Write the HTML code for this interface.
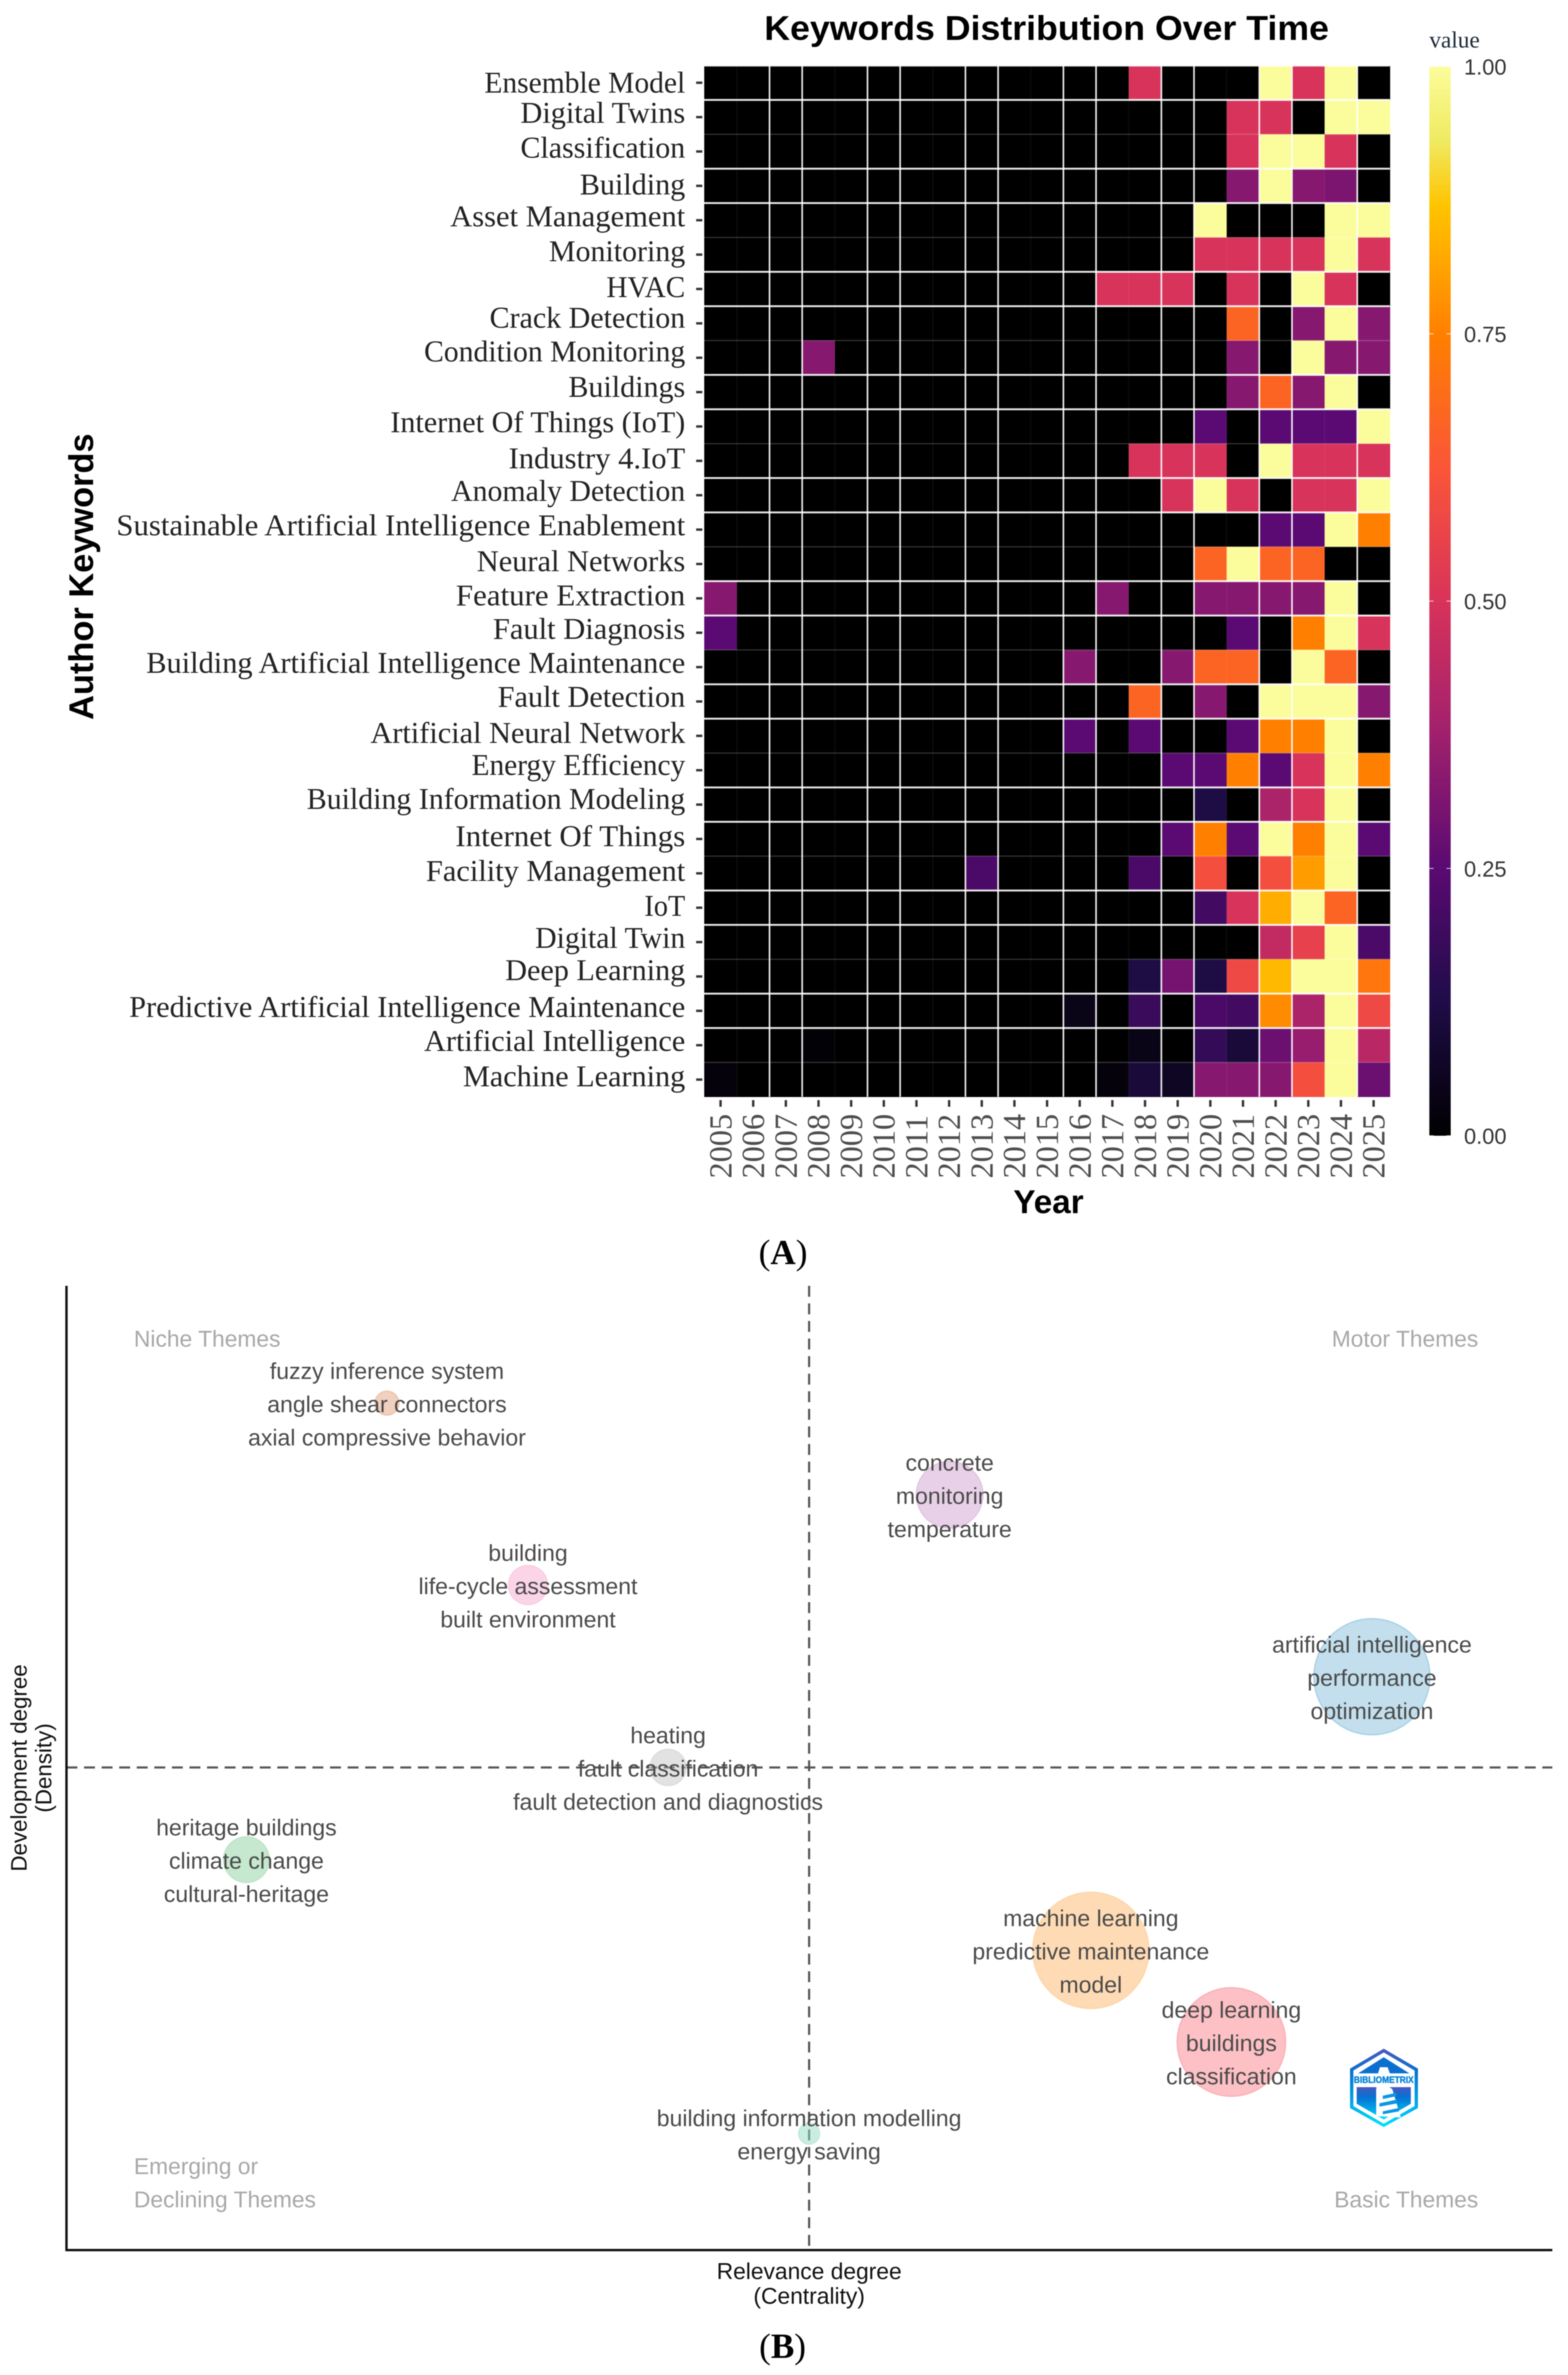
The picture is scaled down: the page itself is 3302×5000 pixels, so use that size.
<!DOCTYPE html>
<html lang="en">
<head>
<meta charset="utf-8">
<title>Keywords Distribution Over Time and Thematic Map</title>
<style>
html,body{margin:0;padding:0;background:#fff;}
svg{display:block;filter:blur(1px);}
.sans{font-family:"Liberation Sans",sans-serif;}
.serif{font-family:"Liberation Serif",serif;}
</style>
</head>
<body>
<svg id="figure" xmlns="http://www.w3.org/2000/svg" width="3302" height="5000" viewBox="0 0 3302 5000">
  <rect width="3302" height="5000" fill="#ffffff"/>
  <defs>
    <linearGradient id="logoGrad" x1="0" y1="0" x2="0" y2="1">
      <stop offset="0" stop-color="#4a58c0"/>
      <stop offset="0.3" stop-color="#0672d2"/>
      <stop offset="0.7" stop-color="#00a8ea"/>
      <stop offset="1" stop-color="#00e2ff"/>
    </linearGradient>
    <linearGradient id="colorbarGrad" x1="0" y1="1" x2="0" y2="0"></linearGradient>
  </defs>

  <g id="heatmap">
    <text class="sans" x="2204" y="84" font-size="72" font-weight="700" text-anchor="middle" fill="#000" textLength="1189" lengthAdjust="spacingAndGlyphs">Keywords Distribution Over Time</text>
    <text class="sans" transform="translate(196,1214) rotate(-90)" font-size="72" font-weight="700" text-anchor="middle" fill="#000" textLength="603" lengthAdjust="spacingAndGlyphs">Author Keywords</text>
    <text class="sans" x="2208" y="2554" font-size="70" font-weight="700" text-anchor="middle" fill="#000">Year</text>
    <g id="heatCells"></g>
    <g id="heatGrid"></g>
    <g id="heatYAxis"></g>
    <g id="heatXAxis"></g>
    <g id="colorbar">
      <text class="serif" x="3010" y="100" font-size="49" fill="#1c2a3a" font-weight="400">value</text>
    </g>
  </g>

  <text class="serif" x="1649" y="2661" font-size="74" text-anchor="middle" fill="#000">(<tspan font-weight="700">A</tspan>)</text>

  <g id="thematic">
    <g id="thematicGuides"></g>
    <g id="thematicBubbles"></g>
    <g id="thematicLabels"></g>
    <line x1="140" y1="2707" x2="140" y2="4739" stroke="#111" stroke-width="5"/>
    <line x1="138" y1="4737" x2="3269" y2="4737" stroke="#111" stroke-width="5"/>

    <g class="sans" font-size="48" fill="#a8a8a8">
      <text x="282" y="2835">Niche Themes</text>
      <text x="3113" y="2835" text-anchor="end">Motor Themes</text>
      <text x="282" y="4577">Emerging or</text>
      <text x="282" y="4647">Declining Themes</text>
      <text x="3113" y="4647" text-anchor="end">Basic Themes</text>
    </g>

    <g class="sans" font-size="48" fill="#111" text-anchor="middle">
      <text x="1704" y="4798">Relevance degree</text>
      <text x="1704" y="4850">(Centrality)</text>
    </g>
    <g class="sans" font-size="47" fill="#111" text-anchor="middle">
      <text transform="translate(56,3722) rotate(-90)">Development degree</text>
      <text transform="translate(108,3722) rotate(-90)">(Density)</text>
    </g>

    <g id="logo">
      <polygon points="2914,4313 2986,4355 2986,4438 2914,4478 2843,4438 2843,4355" fill="url(#logoGrad)"/>
      <polygon points="2914,4321 2979,4359 2979,4434 2914,4471 2850,4434 2850,4359" fill="#ffffff"/>
      <polygon points="2914,4331 2968,4365 2860,4365" fill="#0a6fd0"/>
      <polygon points="2857,4394 2971,4394 2971,4429 2914,4462 2857,4429" fill="url(#logoGrad)"/>
      <rect x="2850" y="4365" width="129" height="29" fill="#ffffff"/>
      <polygon points="2902,4365 2906,4352 2922,4352 2927,4365 2927,4395 2932,4398 2950,4458 2898,4455 2898,4400" fill="#ffffff"/>
      <g fill="#0a96e4">
        <polygon points="2912,4412 2940,4406 2941,4413 2912,4419"/>
        <polygon points="2905,4428 2942,4420 2943,4428 2905,4435"/>
        <polygon points="2912,4445 2945,4438 2946,4445 2912,4451"/>
      </g>
      <text class="sans" x="2914" y="4385" font-size="19" font-weight="700" text-anchor="middle" fill="#0a86da" stroke="#0a86da" stroke-width="0.8" textLength="126" lengthAdjust="spacingAndGlyphs">BIBLIOMETRIX</text>
    </g>
  </g>

  <text class="serif" x="1648" y="4964" font-size="74" text-anchor="middle" fill="#000">(<tspan font-weight="700">B</tspan>)</text>
</svg>

<script>
/* ---------- Panel A data ---------- */
const years = ['2005','2006','2007','2008','2009','2010','2011','2012','2013','2014','2015','2016','2017','2018','2019','2020','2021','2022','2023','2024','2025'];
const keywords = ['Ensemble Model','Digital Twins','Classification','Building','Asset Management','Monitoring','HVAC','Crack Detection','Condition Monitoring','Buildings','Internet Of Things (IoT)','Industry 4.IoT','Anomaly Detection','Sustainable Artificial Intelligence Enablement','Neural Networks','Feature Extraction','Fault Diagnosis','Building Artificial Intelligence Maintenance','Fault Detection','Artificial Neural Network','Energy Efficiency','Building Information Modeling','Internet Of Things','Facility Management','IoT','Digital Twin','Deep Learning','Predictive Artificial Intelligence Maintenance','Artificial Intelligence','Machine Learning'];
const heatValues = [
  [0,0,0,0,0,0,0,0,0,0,0,0,0,.5,0,0,0,1,.5,1,0],
  [0,0,0,0,0,0,0,0,0,0,0,0,0,0,0,0,.5,.5,0,1,1],
  [0,0,0,0,0,0,0,0,0,0,0,0,0,0,0,0,.5,1,1,.5,0],
  [0,0,0,0,0,0,0,0,0,0,0,0,0,0,0,0,.33,1,.33,.31,0],
  [0,0,0,0,0,0,0,0,0,0,0,0,0,0,0,1,0,0,0,1,1],
  [0,0,0,0,0,0,0,0,0,0,0,0,0,0,0,.5,.5,.5,.5,1,.5],
  [0,0,0,0,0,0,0,0,0,0,0,0,.5,.5,.5,0,.5,0,1,.5,0],
  [0,0,0,0,0,0,0,0,0,0,0,0,0,0,0,0,.67,0,.33,1,.33],
  [0,0,0,.33,0,0,0,0,0,0,0,0,0,0,0,0,.33,0,1,.33,.33],
  [0,0,0,0,0,0,0,0,0,0,0,0,0,0,0,0,.33,.67,.33,1,0],
  [0,0,0,0,0,0,0,0,0,0,0,0,0,0,0,.25,0,.25,.25,.25,1],
  [0,0,0,0,0,0,0,0,0,0,0,0,0,.5,.5,.5,0,1,.5,.5,.5],
  [0,0,0,0,0,0,0,0,0,0,0,0,0,0,.5,1,.5,0,.5,.5,1],
  [0,0,0,0,0,0,0,0,0,0,0,0,0,0,0,0,0,.25,.25,1,.75],
  [0,0,0,0,0,0,0,0,0,0,0,0,0,0,0,.67,1,.67,.67,0,0],
  [.33,0,0,0,0,0,0,0,0,0,0,0,.33,0,0,.33,.33,.33,.33,1,0],
  [.25,0,0,0,0,0,0,0,0,0,0,0,0,0,0,0,.25,0,.75,1,.5],
  [0,0,0,0,0,0,0,0,0,0,0,.33,0,0,.33,.67,.67,0,1,.67,0],
  [0,0,0,0,0,0,0,0,0,0,0,0,0,.67,0,.33,0,1,1,1,.33],
  [0,0,0,0,0,0,0,0,0,0,0,.25,0,.25,0,0,.25,.75,.75,1,0],
  [0,0,0,0,0,0,0,0,0,0,0,0,0,0,.25,.25,.75,.25,.5,1,.75],
  [0,0,0,0,0,0,0,0,0,0,0,0,0,0,0,.12,0,.4,.5,1,0],
  [0,0,0,0,0,0,0,0,0,0,0,0,0,0,.25,.75,.25,1,.75,1,.25],
  [0,0,0,0,0,0,0,0,.22,0,0,0,0,.22,0,.6,0,.6,.8,1,0],
  [0,0,0,0,0,0,0,0,0,0,0,0,0,0,0,.2,.5,.83,1,.67,0],
  [0,0,0,0,0,0,0,0,0,0,0,0,0,0,0,0,0,.45,.55,1,.22],
  [0,0,0,0,0,0,0,0,0,0,0,0,0,.12,.3,.12,.58,.85,1,1,.72],
  [0,0,0,0,0,0,0,0,0,0,0,.04,0,.18,0,.22,.2,.77,.4,1,.58],
  [0,0,0,.01,0,0,0,0,0,0,0,0,0,.04,0,.17,.1,.28,.36,1,.43],
  [.02,0,0,0,0,0,0,0,0,0,0,0,.02,.1,.06,.33,.33,.33,.6,1,.28]
];
const legendTicks = [0, 0.25, 0.5, 0.75, 1];

/* ---------- Panel B data ---------- */
const clusterCentrality = [0.8786, 0.5944, 0.2157, 0.3106, 0.4049, 0.1211, 0.6894, 0.7840, 0.4998];
const clusterDensity = [0.5946, 0.7833, 0.8783, 0.6897, 0.5005, 0.4049, 0.3108, 0.2158, 0.1207];
const clusterSize = [149, 49, 6.25, 16.8, 14.4, 23, 149, 130, 4.8];
const clusterTerms = [
  ['artificial intelligence','performance','optimization'],
  ['concrete','monitoring','temperature'],
  ['fuzzy inference system','angle shear connectors','axial compressive behavior'],
  ['building','life-cycle assessment','built environment'],
  ['heating','fault classification','fault detection and diagnostics'],
  ['heritage buildings','climate change','cultural-heritage'],
  ['machine learning','predictive maintenance','model'],
  ['deep learning','buildings','classification'],
  ['building information modelling','energy saving']
];
const centralityMedian = 0.4998;
const densityMedian = 0.5005;

/* ---------- Scales and styling ---------- */
const SVGNS = 'http://www.w3.org/2000/svg';
function mk(tag, attrs, parent) {
  const el = document.createElementNS(SVGNS, tag);
  for (const k in attrs) el.setAttribute(k, attrs[k]);
  parent.appendChild(el);
  return el;
}
const HM = {left: 1483, right: 2927, top: 138, bottom: 2309};
const cellW = (HM.right - HM.left) / years.length;
const cellH = (HM.bottom - HM.top) / keywords.length;
function xBand(i) { return HM.left + i * cellW; }
function yBand(i) { return HM.top + i * cellH; }

const rampStops = [[0,'#000000'],[0.125,'#1f0c48'],[0.25,'#5a0a72'],[0.375,'#a0206e'],[0.5,'#d8335a'],[0.625,'#fb5538'],[0.75,'#ff8000'],[0.87,'#ffc400'],[0.93,'#f0ea60'],[1,'#fbfd9c']];
function hexRgb(h) { return [parseInt(h.slice(1,3),16),parseInt(h.slice(3,5),16),parseInt(h.slice(5,7),16)]; }
function ramp(v) {
  v = Math.max(0, Math.min(1, v));
  for (let i = 1; i < rampStops.length; i++) {
    if (v <= rampStops[i][0]) {
      const a = rampStops[i-1], b = rampStops[i];
      const t = (v - a[0]) / (b[0] - a[0]);
      const ca = hexRgb(a[1]), cb = hexRgb(b[1]);
      return 'rgb(' + ca.map((c, j) => Math.round(c + (cb[j] - c) * t)).join(',') + ')';
    }
  }
  return rampStops[rampStops.length-1][1];
}

/* ---------- Heatmap cells ---------- */
const cellsG = document.getElementById('heatCells');
heatValues.forEach((row, r) => {
  row.forEach((v, c) => {
    const el = mk('rect', {x: xBand(c), y: yBand(r), width: cellW + 0.5, height: cellH + 0.5, fill: ramp(v)}, cellsG);
    
    
  });
});

/* ---------- Heatmap gridlines (uneven strength from resampling) ---------- */
const gridG = document.getElementById('heatGrid');
for (let k = 1; k < years.length; k++) {
  const strong = k % 3 !== 1;
  const el = mk('line', {x1: xBand(k), x2: xBand(k), y1: HM.top, y2: HM.bottom, stroke: '#ffffff', 'stroke-width': strong ? 3.5 : 2, 'stroke-opacity': strong ? 0.9 : 0.06}, gridG);
  
  
}
for (let k = 0; k <= keywords.length - 1; k++) {
  const strong = k % 3 !== 2;
  const el = mk('line', {x1: HM.left, x2: HM.right, y1: yBand(k), y2: yBand(k), stroke: '#ffffff', 'stroke-width': strong ? 4 : 2.5, 'stroke-opacity': strong ? 0.9 : 0.2}, gridG);
  
  
}

/* ---------- Keyword axis ---------- */
const labelNudge = [2,-7,-6,-1,-6,-5,-2,-10,-11,-9,-7,-3,-7,-7,-4,-4,-6,-7,-8,-4,-9,-10,-4,-3,-2,-7,-11,-6,-7,-5];
const labelWidth = [423,347,347,222,495,287,166,412,550,246,621,372,493,1198,439,483,405,1135,395,663,450,797,484,546,86,316,379,1171,550,468];
const yAxisG = document.getElementById('heatYAxis');
keywords.forEach((name, i) => {
  const cy = yBand(i) + cellH / 2;
  const tick = mk('line', {x1: 1466, x2: 1479, y1: cy, y2: cy, stroke: '#333', 'stroke-width': 5}, yAxisG);
  
  
  const t = mk('text', {x: 1443, y: cy + labelNudge[i] + 19, 'text-anchor': 'end', 'font-size': 63, fill: '#222', class: 'serif', textLength: labelWidth[i], lengthAdjust: 'spacingAndGlyphs'}, yAxisG);
  
  
  t.textContent = name;
});

/* ---------- Year axis ---------- */
const xAxisG = document.getElementById('heatXAxis');
years.forEach((yr, i) => {
  const cx = xBand(i) + cellW / 2;
  const tick = mk('line', {x1: cx, x2: cx, y1: 2316, y2: 2330, stroke: '#333', 'stroke-width': 5}, xAxisG);
  
  
  const t = mk('text', {transform: 'translate(' + (cx + 23) + ',2481) rotate(-90)', 'font-size': 68, fill: '#4d4d4d', class: 'serif'}, xAxisG);
  
  
  t.textContent = yr;
});

/* ---------- Colour legend ---------- */
const grad = document.getElementById('colorbarGrad');
rampStops.forEach(s => mk('stop', {offset: s[0], 'stop-color': s[1]}, grad));
function legendY(v) { return 2391 - v * 2251; }
const cbG = document.getElementById('colorbar');
const bar = mk('rect', {x: 3010, y: legendY(1), width: 45, height: legendY(0) - legendY(1), fill: 'url(#colorbarGrad)'}, cbG);


legendTicks.forEach(v => {
  const y = legendY(v);
  const l1 = mk('line', {x1: 3010, x2: 3019, y1: y, y2: y, stroke: '#fff', 'stroke-width': 2, 'stroke-opacity': 0.7}, cbG);
  
  
  const l2 = mk('line', {x1: 3046, x2: 3055, y1: y, y2: y, stroke: '#fff', 'stroke-width': 2, 'stroke-opacity': 0.7}, cbG);
  
  
  const t = mk('text', {x: 3083, y: y + 17, 'font-size': 46, fill: '#333', class: 'sans'}, cbG);
  
  
  t.textContent = v.toFixed(2);
});

/* ---------- Thematic map ---------- */
const TM = {left: 140, right: 3269, top: 2707, bottom: 4737};
function xScale(v) { return TM.left + v * (TM.right - TM.left); }
function yScale(v) { return TM.bottom - v * (TM.bottom - TM.top); }
function rScale(s) { return 10 * Math.sqrt(s); }
const bubbleFill = ['rgba(146,197,222,.55)','rgba(204,153,204,.45)','rgba(222,150,110,.45)','rgba(247,170,210,.5)','rgba(190,190,190,.45)','rgba(140,210,160,.5)','rgba(253,190,120,.55)','rgba(252,140,150,.55)','rgba(150,220,195,.5)'];
const bubbleEdge = ['#a9d2e8','#e3c4e0','#eec4ac','#fbcde3','#dddddd','#bee4c8','#fdd6a8','#fbb2b8','#c2ead9'];

const guidesG = document.getElementById('thematicGuides');
const vGuide = mk('line', {x1: xScale(centralityMedian), x2: xScale(centralityMedian), y1: TM.top, y2: TM.bottom, stroke: '#555', 'stroke-width': 4.5, 'stroke-dasharray': '23 14'}, guidesG);


const hGuide = mk('line', {x1: TM.left, x2: TM.right, y1: yScale(densityMedian), y2: yScale(densityMedian), stroke: '#555', 'stroke-width': 4.5, 'stroke-dasharray': '23 14'}, guidesG);



const bubblesG = document.getElementById('thematicBubbles');
const labelsG = document.getElementById('thematicLabels');
clusterSize.forEach((s, i) => {
  const cx = xScale(clusterCentrality[i]);
  const cy = yScale(clusterDensity[i]);
  const c = mk('circle', {cx: cx, cy: cy, r: rScale(s), fill: bubbleFill[i], stroke: bubbleEdge[i], 'stroke-width': 3}, bubblesG);
  
  
  const lines = clusterTerms[i];
  lines.forEach((txt, j) => {
    const y = cy + (j - (lines.length - 1) / 2) * 70 + 19;
    const t = mk('text', {x: cx, y: y, 'text-anchor': 'middle', 'font-size': 48.5, fill: '#4a4a4a', class: 'sans'}, labelsG);
    
    
    t.textContent = txt;
  });
});
</script>
</body>
</html>
